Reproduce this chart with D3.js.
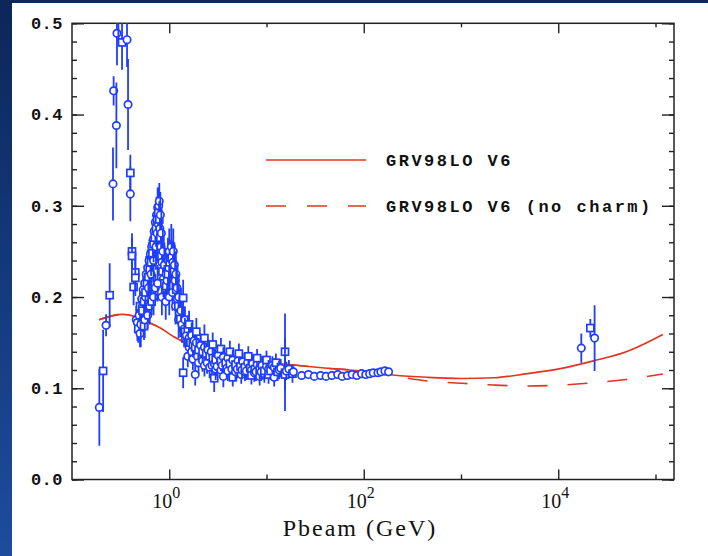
<!DOCTYPE html>
<html>
<head>
<meta charset="utf-8">
<script src="https://cdn.jsdelivr.net/npm/d3@7"></script>
<style>
    body { margin: 0; background: #fff; }
    svg { display: block; }
</style>
</head>
<body>
<svg id="chart" width="708" height="556"></svg>
<script>

// GRV98LO V6 model curves
var modelP = [0.19, 0.33, 0.45, 0.59, 0.81, 1.11, 1.78, 3.9, 8.5, 19, 42, 92, 200, 450, 1000, 2200, 4800, 10500, 23000, 50000, 119000];
var grvY = [0.175, 0.181, 0.1785, 0.173, 0.166, 0.1566, 0.1456, 0.1346, 0.129, 0.1255, 0.122, 0.119, 0.1146, 0.112, 0.1107, 0.1115, 0.116, 0.1215, 0.130, 0.140, 0.159];
var noCharmY = [0.175, 0.181, 0.1785, 0.173, 0.166, 0.1566, 0.1456, 0.1346, 0.129, 0.1255, 0.122, 0.119, 0.1135, 0.108, 0.1055, 0.1035, 0.1025, 0.1035, 0.106, 0.1096, 0.1157];

// measured points: [Pbeam GeV, value, error]
var circlePoints = [
    [0.191, 0.079, 0.042], [0.224, 0.169, 0.012], [0.264, 0.324, 0.040], [0.268, 0.426, 0.016],
    [0.286, 0.388, 0.047], [0.290, 0.489, 0.035], [0.300, 0.510, 0.030], [0.368, 0.482, 0.030],
    [0.377, 0.411, 0.050], [0.398, 0.313, 0.030], [0.458, 0.175, 0.015],
    [0.47, 0.172, 0.020], [0.49, 0.180, 0.020], [0.50, 0.160, 0.015], [0.51, 0.170, 0.025],
    [0.52, 0.198, 0.020], [0.53, 0.190, 0.025], [0.54, 0.208, 0.020], [0.56, 0.215, 0.020],
    [0.56, 0.175, 0.020], [0.57, 0.200, 0.025], [0.58, 0.225, 0.020], [0.60, 0.180, 0.015],
    [0.60, 0.232, 0.020], [0.61, 0.210, 0.025], [0.62, 0.240, 0.020], [0.63, 0.190, 0.020],
    [0.64, 0.247, 0.020], [0.65, 0.225, 0.025], [0.66, 0.255, 0.020], [0.68, 0.262, 0.020],
    [0.69, 0.240, 0.025], [0.69, 0.200, 0.020], [0.70, 0.272, 0.020], [0.72, 0.210, 0.015],
    [0.72, 0.282, 0.020], [0.73, 0.255, 0.025], [0.74, 0.290, 0.020], [0.75, 0.270, 0.025],
    [0.76, 0.298, 0.022], [0.76, 0.215, 0.020], [0.77, 0.280, 0.025], [0.78, 0.300, 0.020],
    [0.79, 0.305, 0.020], [0.80, 0.275, 0.020], [0.81, 0.290, 0.025], [0.82, 0.255, 0.020],
    [0.83, 0.270, 0.025], [0.84, 0.238, 0.020], [0.84, 0.200, 0.020], [0.86, 0.250, 0.025],
    [0.87, 0.220, 0.020], [0.89, 0.235, 0.025], [0.91, 0.210, 0.020], [0.92, 0.195, 0.020],
    [0.93, 0.225, 0.025], [0.95, 0.218, 0.020], [0.97, 0.240, 0.025], [0.99, 0.232, 0.020],
    [1.00, 0.250, 0.025], [1.00, 0.200, 0.020], [1.03, 0.242, 0.020], [1.05, 0.255, 0.025],
    [1.08, 0.205, 0.020], [1.09, 0.238, 0.020], [1.10, 0.250, 0.025], [1.13, 0.235, 0.025],
    [1.15, 0.218, 0.020], [1.16, 0.190, 0.020], [1.17, 0.225, 0.025], [1.20, 0.210, 0.025],
    [1.21, 0.198, 0.020], [1.25, 0.200, 0.025], [1.25, 0.175, 0.020], [1.27, 0.182, 0.020],
    [1.32, 0.185, 0.025], [1.35, 0.170, 0.020], [1.42, 0.165, 0.020],
    [1.45, 0.175, 0.015], [1.50, 0.158, 0.015], [1.55, 0.135, 0.012], [1.60, 0.155, 0.015],
    [1.60, 0.145, 0.013], [1.70, 0.158, 0.014], [1.70, 0.140, 0.013], [1.75, 0.132, 0.012],
    [1.80, 0.152, 0.014], [1.85, 0.115, 0.012], [1.90, 0.150, 0.013], [1.95, 0.135, 0.012],
    [2.0, 0.128, 0.012], [2.1, 0.147, 0.013], [2.2, 0.130, 0.012], [2.3, 0.145, 0.012],
    [2.3, 0.125, 0.012], [2.45, 0.128, 0.012], [2.5, 0.142, 0.012], [2.6, 0.123, 0.012],
    [2.7, 0.140, 0.012], [2.75, 0.125, 0.012], [2.9, 0.127, 0.012], [3.0, 0.121, 0.012],
    [3.1, 0.124, 0.011], [3.2, 0.136, 0.012], [3.4, 0.120, 0.011], [3.5, 0.125, 0.011],
    [3.6, 0.134, 0.011], [3.6, 0.113, 0.012], [3.9, 0.122, 0.011], [4.0, 0.133, 0.011],
    [4.0, 0.119, 0.011], [4.4, 0.121, 0.011], [4.5, 0.131, 0.011], [4.8, 0.118, 0.010],
    [5.0, 0.121, 0.010], [5.1, 0.130, 0.011], [5.5, 0.115, 0.010], [5.6, 0.120, 0.010],
    [5.7, 0.129, 0.010], [6.0, 0.118, 0.010], [6.2, 0.119, 0.010], [6.4, 0.128, 0.010],
    [7.0, 0.120, 0.010], [7.2, 0.127, 0.010], [7.5, 0.117, 0.010], [7.8, 0.118, 0.010],
    [8.0, 0.126, 0.010], [8.5, 0.113, 0.010], [8.8, 0.118, 0.010], [9.0, 0.125, 0.010],
    [9.5, 0.116, 0.010], [10, 0.124, 0.010], [10.5, 0.121, 0.010], [11.5, 0.125, 0.010],
    [12, 0.123, 0.010], [12, 0.112, 0.010], [13.5, 0.120, 0.010], [14, 0.122, 0.010],
    [16, 0.119, 0.010], [17, 0.121, 0.010], [18.9, 0.118, 0.006],
    [23, 0.114, 0.004], [27, 0.115, 0.004], [31, 0.113, 0.004], [36, 0.114, 0.004],
    [41, 0.113, 0.004], [47, 0.114, 0.004], [54, 0.115, 0.004], [60, 0.113, 0.004],
    [68, 0.114, 0.004], [76, 0.115, 0.004], [85, 0.114, 0.004], [95, 0.116, 0.004],
    [105, 0.115, 0.004], [115, 0.116, 0.004], [125, 0.117, 0.004], [140, 0.117, 0.004],
    [150, 0.118, 0.004], [165, 0.119, 0.004], [180, 0.118, 0.004],
    [17260, 0.144, 0.016], [23650, 0.155, 0.036]
];

var squarePoints = [
    [0.209, 0.119, 0.045], [0.244, 0.202, 0.035], [0.327, 0.479, 0.030], [0.398, 0.336, 0.020],
    [0.414, 0.250, 0.020], [0.414, 0.245, 0.020], [0.430, 0.211, 0.020], [0.448, 0.227, 0.020],
    [0.448, 0.221, 0.020],
    [0.48, 0.165, 0.015], [0.50, 0.190, 0.020], [0.53, 0.185, 0.020], [0.55, 0.168, 0.015],
    [0.55, 0.195, 0.015], [0.57, 0.205, 0.020], [0.59, 0.215, 0.015], [0.61, 0.222, 0.020],
    [0.63, 0.230, 0.020], [0.65, 0.238, 0.015], [0.66, 0.195, 0.015], [0.67, 0.248, 0.020],
    [0.69, 0.258, 0.020], [0.71, 0.265, 0.020], [0.73, 0.275, 0.020], [0.75, 0.285, 0.020],
    [0.77, 0.292, 0.020], [0.79, 0.285, 0.020], [0.81, 0.265, 0.020], [0.83, 0.245, 0.020],
    [0.85, 0.228, 0.020], [0.89, 0.215, 0.020], [0.93, 0.212, 0.015], [0.97, 0.225, 0.020],
    [1.01, 0.238, 0.020], [1.06, 0.243, 0.020], [1.12, 0.228, 0.020], [1.18, 0.208, 0.020],
    [1.24, 0.190, 0.020], [1.30, 0.176, 0.020], [1.39, 0.199, 0.020], [1.39, 0.117, 0.017],
    [1.45, 0.162, 0.015], [1.55, 0.165, 0.015], [1.60, 0.170, 0.015], [1.65, 0.150, 0.015],
    [1.75, 0.148, 0.014], [1.85, 0.145, 0.014], [1.90, 0.162, 0.015], [2.0, 0.142, 0.013],
    [2.2, 0.140, 0.013], [2.3, 0.155, 0.015], [2.4, 0.138, 0.012], [2.6, 0.135, 0.012],
    [2.8, 0.133, 0.012], [2.8, 0.148, 0.013], [2.9, 0.111, 0.015], [3.0, 0.131, 0.012],
    [3.4, 0.130, 0.011], [3.4, 0.143, 0.012], [3.8, 0.128, 0.011], [4.2, 0.127, 0.011],
    [4.2, 0.140, 0.012], [4.5, 0.112, 0.010], [4.8, 0.126, 0.011], [5.2, 0.138, 0.011],
    [5.4, 0.124, 0.010], [6.0, 0.123, 0.010], [6.5, 0.135, 0.011], [6.8, 0.122, 0.010],
    [7.0, 0.114, 0.010], [7.6, 0.121, 0.010], [8.0, 0.133, 0.010], [8.5, 0.120, 0.010],
    [9.5, 0.119, 0.010], [10, 0.131, 0.010], [10.5, 0.115, 0.010], [11, 0.119, 0.010],
    [12.5, 0.128, 0.010], [13, 0.118, 0.010], [15.5, 0.117, 0.010], [15.5, 0.140, 0.042],
    [15.5, 0.115, 0.040], [18.5, 0.116, 0.010],
    [21380, 0.166, 0.010]
];

var yMajor = [0, 0.1, 0.2, 0.3, 0.4, 0.5];
var xMajor = [1, 100, 10000];
var xMajorExp = ['0', '2', '4'];
var xMinor = [10, 1000, 100000];
var legendNames = ['GRV98LO V6', 'GRV98LO V6 (no charm)'];

var RED = '#e2341f';
var BLUE = '#1f3dff';

var svg = d3.select('#chart');

// slide background
var defs = svg.append('defs');
var grad = defs.append('linearGradient')
    .attr('id', 'bg')
    .attr('x1', 0).attr('y1', 0)
    .attr('x2', 0).attr('y2', 1);
grad.append('stop').attr('offset', '0%').attr('stop-color', '#0b275a');
grad.append('stop').attr('offset', '100%').attr('stop-color', '#1d4c9e');

svg.append('rect').attr('width', 708).attr('height', 556).attr('fill', 'url(#bg)');
svg.append('rect').attr('x', 12).attr('y', 3).attr('width', 696).attr('height', 553).attr('fill', '#fff');

var plotL = 72, plotR = 674, plotT = 23.3, plotB = 479.5;

var x = d3.scaleLog().domain([0.1, 155000]).range([plotL, plotR]);
var y = d3.scaleLinear().domain([0, 0.5]).range([plotB, plotT]);

var yMinor = d3.range(0, 0.5001, 0.02).map(function (v) { return +v.toFixed(2); });

defs.append('clipPath').attr('id', 'plotclip')
    .append('rect')
    .attr('x', plotL).attr('y', plotT)
    .attr('width', plotR - plotL).attr('height', plotB - plotT);

// axes, ticks pointing into the frame
function styleAxis(g) {
    g.select('.domain').remove();
    g.selectAll('.tick line').attr('stroke', '#222').attr('stroke-width', 1.4);
}

svg.append('g').attr('transform', 'translate(' + plotL + ',0)')
    .call(d3.axisLeft(y).tickValues(yMinor).tickSize(-5).tickFormat(''))
    .call(styleAxis);
svg.append('g').attr('transform', 'translate(' + plotL + ',0)')
    .call(d3.axisLeft(y).tickValues(yMajor).tickSize(-12).tickPadding(9).tickFormat(d3.format('.1f')))
    .call(styleAxis)
    .selectAll('text')
    .attr('fill', '#111')
    .style('font-family', '"Liberation Mono", monospace')
    .style('font-weight', 'bold')
    .style('font-size', '17px')
    .style('letter-spacing', '0.5px');

svg.append('g').attr('transform', 'translate(' + plotR + ',0)')
    .call(d3.axisRight(y).tickValues(yMinor).tickSize(-5).tickFormat(''))
    .call(styleAxis);
svg.append('g').attr('transform', 'translate(' + plotR + ',0)')
    .call(d3.axisRight(y).tickValues(yMajor).tickSize(-12).tickFormat(''))
    .call(styleAxis);

svg.append('g').attr('transform', 'translate(0,' + plotB + ')')
    .call(d3.axisBottom(x).tickValues(xMajor).tickSize(-10).tickFormat(''))
    .call(styleAxis);
svg.append('g').attr('transform', 'translate(0,' + plotB + ')')
    .call(d3.axisBottom(x).tickValues(xMinor).tickSize(-5).tickFormat(''))
    .call(styleAxis);
svg.append('g').attr('transform', 'translate(0,' + plotT + ')')
    .call(d3.axisTop(x).tickValues(xMajor).tickSize(-10).tickFormat(''))
    .call(styleAxis);
svg.append('g').attr('transform', 'translate(0,' + plotT + ')')
    .call(d3.axisTop(x).tickValues(xMinor).tickSize(-4).tickFormat(''))
    .call(styleAxis);

// 10^n labels
var xl = svg.append('g').selectAll('text')
    .data(xMajor)
    .enter().append('text')
    .attr('x', function (d) { return x(d) - 3; })
    .attr('y', 508)
    .attr('text-anchor', 'middle')
    .attr('fill', '#111')
    .style('font-family', '"Liberation Serif", serif')
    .style('font-size', '20px');
xl.append('tspan').text('10');
xl.append('tspan')
    .attr('dy', -10)
    .style('font-size', '16px')
    .text(function (d, i) { return xMajorExp[i]; });

svg.append('text')
    .attr('x', 360)
    .attr('y', 536)
    .attr('text-anchor', 'middle')
    .attr('fill', '#111')
    .style('font-family', '"Liberation Serif", serif')
    .style('font-size', '24px')
    .style('letter-spacing', '2px')
    .text('Pbeam (GeV)');

// frame
svg.append('rect')
    .attr('x', plotL).attr('y', plotT)
    .attr('width', plotR - plotL).attr('height', plotB - plotT)
    .attr('fill', 'none')
    .attr('stroke', '#222')
    .attr('stroke-width', 1.5);

var plot = svg.append('g').attr('clip-path', 'url(#plotclip)');

// model curves
var line = d3.line()
    .x(function (d) { return x(d[0]); })
    .y(function (d) { return y(d[1]); })
    .curve(d3.curveMonotoneX);

plot.append('path')
    .datum(modelP.map(function (p, i) { return [p, noCharmY[i]]; }))
    .attr('d', line)
    .attr('fill', 'none')
    .attr('stroke', RED)
    .attr('stroke-width', 1.6)
    .attr('stroke-dasharray', '20,20');

plot.append('path')
    .datum(modelP.map(function (p, i) { return [p, grvY[i]]; }))
    .attr('d', line)
    .attr('fill', 'none')
    .attr('stroke', RED)
    .attr('stroke-width', 1.6);

// data points, drawn in energy order so bars and markers interleave like the original
var points = circlePoints.map(function (d) { return {p: d[0], v: d[1], e: d[2], shape: 'c'}; })
    .concat(squarePoints.map(function (d) { return {p: d[0], v: d[1], e: d[2], shape: 's'}; }))
    .sort(function (a, b) { return a.p - b.p; });

var pt = plot.selectAll('g.pt')
    .data(points)
    .enter().append('g')
    .attr('class', 'pt');

pt.append('line')
    .attr('x1', function (d) { return x(d.p); })
    .attr('x2', function (d) { return x(d.p); })
    .attr('y1', function (d) { return y(d.v - d.e); })
    .attr('y2', function (d) { return y(d.v + d.e); })
    .attr('stroke', BLUE)
    .attr('stroke-width', 1.8);

pt.filter(function (d) { return d.shape === 'c'; })
    .append('circle')
    .attr('cx', function (d) { return x(d.p); })
    .attr('cy', function (d) { return y(d.v); })
    .attr('r', 3.7)
    .attr('fill', '#fff')
    .attr('stroke', BLUE)
    .attr('stroke-width', 1.7);

pt.filter(function (d) { return d.shape === 's'; })
    .append('rect')
    .attr('x', function (d) { return x(d.p) - 3.5; })
    .attr('y', function (d) { return y(d.v) - 3.5; })
    .attr('width', 7)
    .attr('height', 7)
    .attr('fill', '#fff')
    .attr('stroke', BLUE)
    .attr('stroke-width', 1.7);

// legend
var legend = svg.append('g').selectAll('g')
    .data(legendNames)
    .enter().append('g')
    .attr('transform', function (d, i) { return 'translate(266,' + (160 + i * 46) + ')'; });

legend.append('line')
    .attr('x1', 0).attr('x2', 100)
    .attr('stroke', RED)
    .attr('stroke-width', 1.6)
    .attr('stroke-dasharray', function (d, i) { return i ? '20,21' : null; });

legend.append('text')
    .attr('x', 120)
    .attr('y', 6)
    .attr('fill', '#111')
    .style('font-family', '"Liberation Mono", monospace')
    .style('font-weight', 'bold')
    .style('font-size', '17px')
    .style('letter-spacing', '2.5px')
    .text(function (d) { return d; });

</script>
</body>
</html>
